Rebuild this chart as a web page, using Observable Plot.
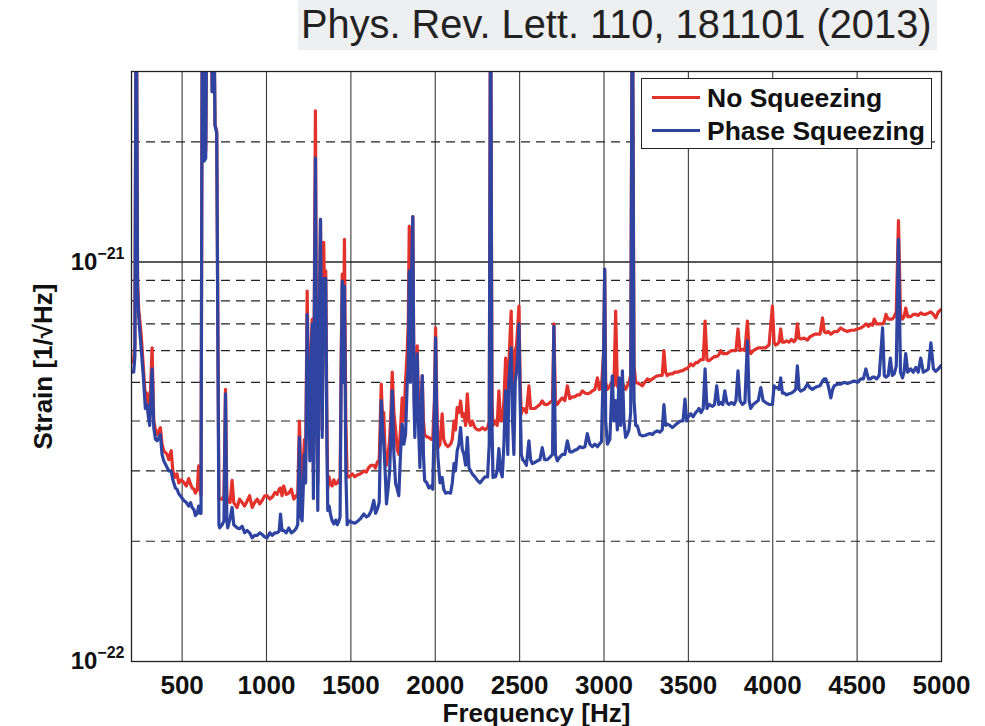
<!DOCTYPE html>
<html><head><meta charset="utf-8">
<script src="https://cdn.jsdelivr.net/npm/d3@7"></script>
<script src="https://cdn.jsdelivr.net/npm/@observablehq/plot@0.6"></script>
<style>
body{margin:0;background:#fff;}
#wrap{position:relative;width:985px;height:726px;overflow:hidden;background:#fff;}
#chart{position:absolute;left:0;top:0;}
#title{position:absolute;left:298px;top:0;width:639px;height:50px;background:#eeeff1;font-family:"Liberation Sans",Arial,Helvetica,sans-serif;font-size:39.8px;color:#222;line-height:48px;white-space:nowrap;padding-left:3px;box-sizing:border-box;}
#legend{position:absolute;left:641px;top:78px;width:291px;height:71px;border:1.5px solid #222;background:#fff;box-sizing:border-box;font-family:"Liberation Sans",Arial,Helvetica,sans-serif;font-weight:bold;font-size:26.5px;color:#111;}
#legend .row{position:absolute;left:0;height:30px;width:100%;}
#legend .sw{position:absolute;left:10px;top:13px;width:48px;height:3px;}
#legend .lab{position:absolute;left:65px;top:0;line-height:30px;white-space:nowrap;}
</style></head><body>
<div id="wrap">
<div id="chart"></div>
<div id="title">Phys. Rev. Lett. 110, 181101 (2013)</div>
<div id="legend"></div>
</div>
<script>
// Frequency [Hz]
const freq = [
200,213,220,228,236,243,257,269,282,292,
300,308,322,332,342,352,371,381,391,411,
421,435,445,460,470,480,495,510,525,539,
550,559,570,579,590,598,606,612,620,630,
640,648,660,670,678,685,695,705,718,723,
737,748,757,765,770,784,796,806,826,840,
856,870,885,900,915,930,945,960,974,990,
1004,1020,1034,1050,1063,1075,1083,1092,1102,1117,
1132,1147,1162,1175,1185,1195,1203,1211,1225,1232,
1241,1249,1257,1264,1271,1278,1284,1290,1297,1304,
1312,1320,1330,1339,1345,1351,1358,1363,1371,1379,
1389,1399,1410,1420,1428,1436,1443,1449,1455,1462,
1470,1478,1490,1508,1523,1538,1557,1577,1592,1606,
1620,1636,1646,1656,1668,1680,1688,1695,1703,1711,
1720,1730,1738,1745,1755,1765,1775,1784,1794,1804,
1814,1824,1834,1840,1846,1853,1861,1867,1874,1879,
1886,1893,1900,1909,1916,1923,1930,1937,1950,1962,
1975,1985,1995,2002,2009,2016,2028,2041,2050,2061,
2075,2091,2101,2111,2120,2130,2140,2150,2160,2170,
2180,2190,2200,2210,2219,2235,2250,2265,2280,2295,
2310,2320,2328,2336,2342,2357,2367,2377,2387,2397,
2407,2417,2424,2430,2436,2443,2450,2458,2466,2474,
2482,2490,2496,2503,2510,2518,2525,2540,2555,2565,
2575,2590,2605,2620,2634,2648,2664,2680,2695,2703,
2712,2723,2738,2753,2768,2783,2797,2812,2827,2842,
2857,2872,2887,2901,2916,2931,2946,2961,2972,2985,
2998,3004,3010,3020,3035,3049,3059,3069,3079,3089,
3099,3109,3118,3128,3138,3148,3158,3168,3178,3188,
3198,3212,3227,3242,3257,3272,3287,3301,3316,3330,
3345,3355,3365,3375,3390,3405,3420,3435,3454,3468,
3480,3490,3500,3514,3528,3543,3555,3563,3575,3588,
3599,3610,3622,3643,3655,3668,3680,3692,3704,3716,
3728,3741,3756,3771,3782,3794,3806,3820,3835,3850,
3860,3869,3884,3899,3914,3929,3943,3958,3978,3998,
4008,4017,4027,4037,4047,4057,4067,4082,4096,4111,
4126,4136,4146,4156,4166,4186,4206,4220,4235,4250,
4265,4280,4295,4305,4314,4329,4344,4355,4364,4383,
4403,4423,4443,4463,4482,4502,4522,4537,4552,4567,
4581,4591,4601,4616,4631,4651,4661,4671,4684,4697,
4708,4720,4732,4745,4757,4769,4778,4788,4800,4818,
4833,4848,4862,4877,4892,4907,4922,4937,4952,4966,
4981,4996];

// Strain, in units of 1e-21 /sqrt(Hz)
const noSqueezing = [
.56,.57,.62,6,.9,.76,.66,.556,.46,.47,
.43,.42,.61,.40,.38,.37,.385,.35,.337,.33,
.32,.337,.30,.289,.295,.28,.285,.281,.275,.287,
.278,.272,.27,.264,.27,.309,.27,.26,6,1.86,
1.9,6,6,6,2.67,6,2.2,2.13,.255,.255,
.255,.26,.48,.26,.253,.25,.284,.25,.243,.255,
.25,.245,.252,.26,.243,.25,.255,.248,.253,.26,
.26,.255,.258,.265,.262,.27,.272,.26,.275,.262,
.264,.27,.255,.26,.258,.40,.30,.28,.36,.32,
.846,.5,.34,.6,.72,.3,.9,2.39,.5,.28,
.7,1.28,.38,1.12,.8,.95,.4,.27,.29,.279,
.275,.285,.278,.28,.285,.28,.6,.933,.6,1.14,
.4,.29,.29,.295,.29,.293,.295,.3,.298,.306,
.31,.31,.305,.315,.32,.495,.4,.42,.33,.31,
.33,.36,.43,.53,.42,.38,.34,.33,.38,.457,
.4,.504,.6,.7,1.23,.6,1.0,1.30,.5,.40,
.5,.617,.45,.38,.45,.52,.4,.37,.365,.364,
.36,.36,.45,.684,.45,.343,.35,.417,.36,.35,
.345,.35,.36,.40,.38,.432,.42,.449,.41,.417,
.39,.468,.40,.39,.40,.385,.38,.38,.385,.38,
.385,.4,6,.45,.39,.40,.39,.476,.4,.40,
.45,.575,.5,.42,.55,.65,.754,.5,.43,.6,
.62,.7,.776,.5,.417,.43,.43,.42,.49,.43,
.43,.43,.435,.44,.449,.44,.44,.445,.45,.70,
.45,.44,.45,.457,.45,.49,.455,.46,.46,.465,
.465,.476,.47,.468,.47,.476,.48,.513,.48,.485,
.6,.96,.5,.48,.49,.504,.49,.754,.49,.48,
.49,.5,.49,.48,.49,.5,.52,6,.55,.5,
.498,.495,.49,.50,.51,.505,.51,.515,.519,.52,
.52,.60,.53,.52,.525,.525,.53,.53,.534,.535,
.54,.54,.545,.556,.55,.56,.56,.565,.57,.57,
.712,.57,.566,.575,.58,.58,.585,.6,.59,.59,
.59,.595,.6,.6,.6,.68,.6,.605,.6,.712,
.6,.59,.6,.605,.61,.61,.61,.61,.62,.776,
.63,.62,.623,.63,.68,.63,.63,.635,.63,.64,
.632,.64,.70,.645,.642,.645,.638,.65,.655,.66,
.66,.66,.725,.67,.665,.67,.66,.665,.67,.67,
.684,.675,.67,.675,.675,.68,.684,.69,.70,.69,
.70,.695,.72,.70,.70,.70,.71,.74,.72,.72,
.72,.73,.75,1.27,.74,.72,.73,.767,.73,.73,
.74,.74,.735,.746,.74,.74,.745,.75,.74,.725,
.75,.76];

const phaseSqueezing = [
.53,.53,.58,6,.85,.725,.61,.525,.43,.44,
.41,.39,.54,.385,.36,.357,.37,.33,.318,.306,
.30,.30,.285,.272,.27,.263,.258,.253,.25,.245,
.25,.243,.24,.232,.235,.245,.235,.235,6,1.79,
1.82,6,6,6,2.67,6,2.2,2.1,.22,.216,
.22,.225,.468,.225,.216,.228,.243,.22,.216,.215,
.218,.21,.213,.21,.204,.207,.207,.21,.208,.205,
.204,.21,.207,.21,.21,.212,.234,.213,.213,.21,
.216,.21,.212,.215,.22,.364,.23,.225,.33,.28,
.74,.45,.318,.55,.70,.256,.8,1.82,.45,.239,
.65,1.28,.364,.91,.75,.91,.35,.239,.245,.234,
.225,.221,.226,.22,.224,.23,.55,.896,.5,.87,
.3,.22,.225,.223,.222,.224,.228,.234,.23,.232,
.238,.253,.235,.24,.25,.45,.38,.35,.3,.248,
.27,.3,.38,.476,.33,.279,.27,.26,.33,.393,
.35,.37,.5,.55,.95,.5,1.0,1.30,.45,.364,
.48,.589,.4,.306,.42,.519,.33,.284,.28,.272,
.275,.27,.42,.646,.4,.324,.28,.289,.27,.264,
.265,.264,.28,.313,.3,.337,.35,.385,.34,.33,
.31,.364,.305,.3,.295,.29,.284,.28,.285,.29,
.29,.35,6,.4,.289,.29,.3,.341,.3,.29,
.35,.476,.42,.33,.5,.55,.61,.4,.33,.5,
.534,.6,.70,.45,.33,.32,.318,.31,.357,.32,
.313,.315,.318,.32,.343,.32,.32,.325,.33,.69,
.33,.318,.325,.33,.33,.357,.335,.335,.338,.34,
.345,.343,.345,.372,.35,.345,.35,.345,.35,.355,
.6,.96,.4,.35,.36,.519,.4,.45,.38,.513,
.39,.534,.4,.364,.37,.38,.42,6,.45,.39,
.389,.37,.367,.368,.37,.372,.37,.375,.378,.375,
.38,.44,.39,.393,.39,.385,.39,.395,.40,.4,
.454,.4,.41,.417,.41,.42,.425,.43,.42,.43,
.54,.43,.44,.435,.44,.49,.44,.445,.44,.476,
.445,.44,.445,.44,.45,.534,.45,.44,.445,.635,
.45,.43,.44,.445,.45,.485,.45,.445,.44,.44,
.49,.485,.485,.48,.513,.47,.47,.465,.468,.47,
.475,.48,.55,.48,.475,.48,.495,.485,.48,.485,
.488,.49,.504,.51,.51,.49,.457,.48,.49,.495,
.495,.5,.497,.5,.504,.5,.51,.51,.54,.51,
.51,.515,.515,.51,.52,.684,.52,.515,.52,.575,
.52,.525,.55,1.14,.53,.513,.53,.59,.53,.54,
.53,.545,.53,.575,.53,.534,.54,.628,.54,.533,
.54,.55];

const seriesNames = ["No Squeezing", "Phase Squeezing"];
const seriesColors = ["#e3312b", "#2f44a1"];
const xTicks = [500,1000,1500,2000,2500,3000,3500,4000,4500,5000];
const yTicks = [1e-22, 1e-21];
const yMinorGrid = [2e-22,3e-22,4e-22,5e-22,6e-22,7e-22,8e-22,9e-22,2e-21];
const unit = 1e-21;

if (freq.length !== noSqueezing.length || freq.length !== phaseSqueezing.length)
  console.error("length mismatch", freq.length, noSqueezing.length, phaseSqueezing.length);

const rows = freq.map((f, i) => ({f, no: noSqueezing[i] * unit, phase: phaseSqueezing[i] * unit}));

const plot = Plot.plot({
  width: 985,
  height: 726,
  marginLeft: 131,
  marginRight: 44,
  marginTop: 71,
  marginBottom: 65,
  style: {fontFamily: '"Liberation Sans", Arial, Helvetica, sans-serif', fontSize: "26px", fontWeight: "bold", color: "#111", background: "transparent", overflow: "visible"},
  x: {domain: [200, 5000], ticks: xTicks, tickFormat: d => String(d), tickSize: 0, tickPadding: 14,
      label: "Frequency [Hz]", labelAnchor: "center", labelOffset: 60, labelArrow: "none"},
  y: {type: "log", domain: [1e-22, 3e-21], ticks: yTicks, tickSize: 0, tickPadding: 7,
      tickFormat: d => "10|" + String(Math.round(Math.log10(d))).replace("-", "\u2212"),
      label: "Strain [1/\u221AHz]", labelAnchor: "center", labelOffset: 98, labelArrow: "none"},
  marks: [
    Plot.ruleX(xTicks.slice(0, -1), {stroke: "#3a3a3a", strokeWidth: 1.1}),
    Plot.ruleY(yMinorGrid, {stroke: "#222", strokeWidth: 1.2, strokeDasharray: "9,6"}),
    Plot.ruleY([1e-21], {stroke: "#222", strokeWidth: 1.4}),
    Plot.line(rows, {x: "f", y: "no", stroke: seriesColors[0], strokeWidth: 3.2, strokeLinejoin: "round", clip: true}),
    Plot.line(rows, {x: "f", y: "phase", stroke: seriesColors[1], strokeWidth: 3.2, strokeLinejoin: "round", clip: true}),
    Plot.frame({stroke: "#222", strokeWidth: 1.3})
  ]
});

// superscript exponents on the y tick labels
d3.select(plot).selectAll('g[aria-label="y-axis tick label"] text').each(function() {
  const t = d3.select(this);
  const s = t.text();
  if (!s.includes("|")) return;
  const [base, exp] = s.split("|");
  t.text(base).attr("font-size", "24px");
  t.append("tspan").attr("dy", "-0.68em").attr("font-size", "16px").text(exp);
});

document.getElementById("chart").appendChild(plot);

// legend
const legend = d3.select("#legend");
seriesNames.forEach((name, i) => {
  const row = legend.append("div").attr("class", "row").style("top", (4 + i * 33) + "px");
  row.append("div").attr("class", "sw").style("background", seriesColors[i]);
  row.append("div").attr("class", "lab").text(name);
});
</script>
</body></html>
